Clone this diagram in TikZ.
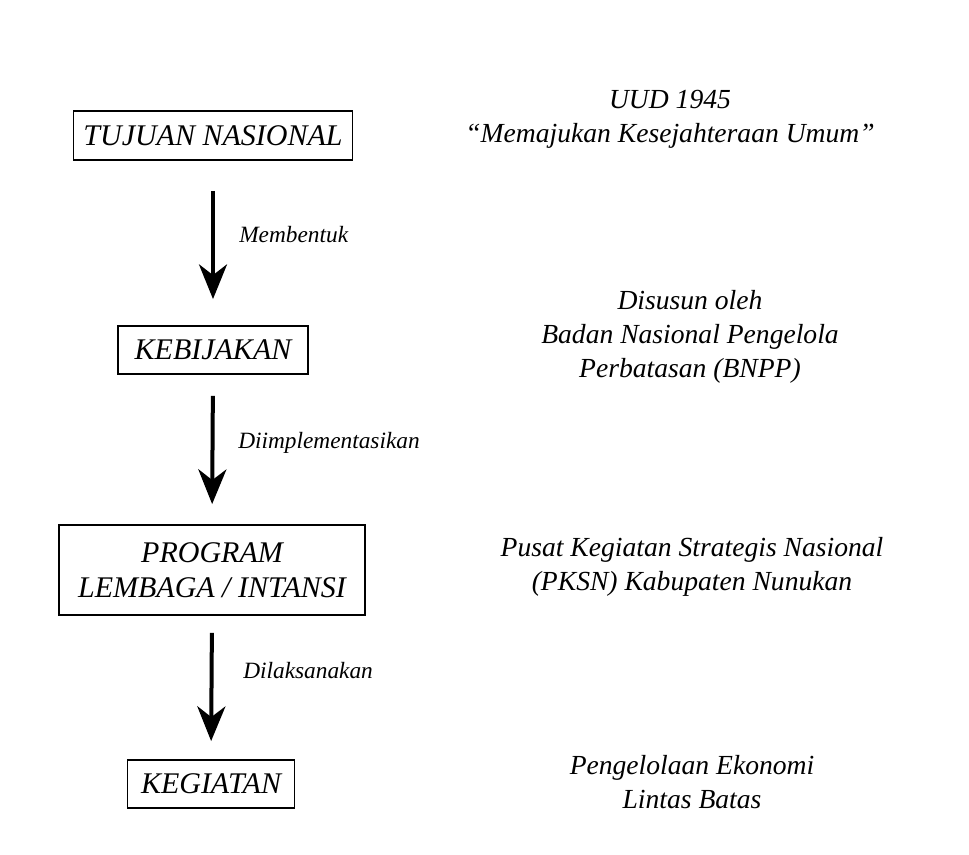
\documentclass[tikz,border=0pt]{standalone}
\usepackage{fontspec}
\setmainfont{Liberation Serif}
\usetikzlibrary{arrows.meta}
\tikzset{
  box/.style={draw, line width=1.4pt, inner sep=0pt, align=center,
    font=\fontsize{22.5}{26.25}\selectfont\itshape},
  side/.style={inner sep=0pt, align=center, anchor=base,
    font=\fontsize{20.7}{25.5}\selectfont\itshape},
  lbl/.style={inner sep=0pt, anchor=base west,
    font=\fontsize{17.5}{21}\selectfont\itshape},
  arr/.style={line width=3pt, -{Stealth[length=26pt, width=21pt, inset=8pt]}}
}
\begin{document}
\begin{tikzpicture}[x=0.75pt,y=-0.75pt]
\useasboundingbox[fill=white] (0,0) rectangle (969,855);
% boxes
\node[box, minimum width=209.25pt, minimum height=36.75pt] (b1) at (213,135.5) {TUJUAN NASIONAL};
\node[box, minimum width=142.5pt, minimum height=36pt] (b2) at (213,350) {KEBIJAKAN};
\node[box, minimum width=229.5pt, minimum height=67.5pt] (b3) at (212,570) {PROGRAM\\LEMBAGA / INTANSI};
\node[box, minimum width=125.25pt, minimum height=36pt] (b4) at (211,784) {KEGIATAN};
% arrows
\draw[arr, shorten <=22.5pt, shorten >=19.5pt] (b1.south) -- (b2.north);
\draw[arr, shorten <=15.75pt, shorten >=15pt] (b2.south) -- (b3.north);
\draw[arr, shorten <=12.75pt, shorten >=13.5pt] (b3.south) -- (b4.north);
% arrow labels
\node[lbl] (l1) at (239,243) {Membentuk};
\node[lbl] (l2) at (238,448) {Diimplementasikan};
\node[lbl] (l3) at (243,678) {Dilaksanakan};
% side texts (anchor = baseline of last line)
\node[side] (s1) at (670,143) {UUD 1945\\“Memajukan Kesejahteraan Umum”};
\node[side] (s2) at (690,377) {Disusun oleh\\Badan Nasional Pengelola\\Perbatasan (BNPP)};
\node[side] (s3) at (692,590) {Pusat Kegiatan Strategis Nasional\\(PKSN) Kabupaten Nunukan};
\node[side] (s4) at (692,808) {Pengelolaan Ekonomi\\Lintas Batas};
\end{tikzpicture}
\end{document}
